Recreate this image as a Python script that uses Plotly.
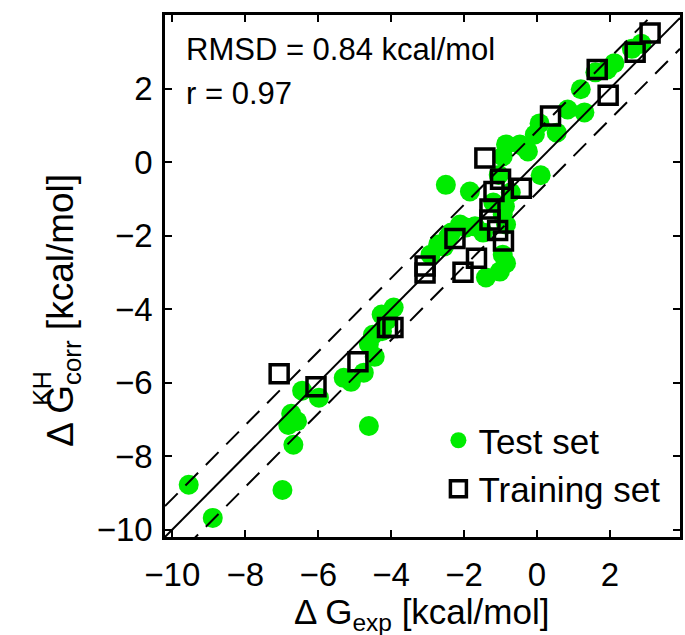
import plotly.graph_objects as go

# ---- data ----
test_x = [-9.55, -8.89, -6.98, -6.68, -6.82, -6.58, -6.74, -6.44, -5.98, -5.30,
          -5.10, -4.75, -4.61, -4.45, -4.61, -4.50, -4.26, -4.12, -3.93, -4.25,
          -2.92, -2.71, -2.55, -2.35, -2.11, -2.43, -1.94, -1.70, -1.48, -0.94,
          -0.85, -0.94, -0.85, -1.02, -1.40, -2.50, -1.84, -0.72, -1.20, -0.88,
          -0.94, -0.85, -0.47, -0.25, 0.10, -0.06, -0.34, 0.07, 0.54, 0.84,
          1.30, 1.20, 1.60, 1.93, 2.12, 2.60, 2.86, -1.05]
test_y = [-8.78, -9.68, -8.92, -7.69, -7.15, -7.05, -6.85, -6.22, -6.41, -5.87,
          -5.98, -5.73, -7.18, -5.30, -4.95, -4.70, -4.15, -4.30, -3.96, -4.60,
          -2.52, -2.24, -2.30, -1.92, -1.70, -2.03, -1.78, -1.75, -1.92, -1.43,
          -1.70, -2.52, -2.75, -2.98, -3.14, -0.62, -0.80, -0.83, -1.10, -1.21,
          0.15, 0.48, 0.48, 0.29, -0.36, 0.75, 0.40, 1.05, 0.80, 1.43,
          1.35, 1.98, 2.44, 2.52, 2.69, 3.08, 3.22, -0.35]

train_x = [-7.07, -6.06, -4.91, -4.10, -3.95, -3.07, -3.07, -2.25, -2.03, -1.66,
           -1.43, -1.00, -0.43, -1.18, -1.29, -1.29, -1.08, -0.92, 0.37, 1.65,
           1.95, 2.69, 3.10]
train_y = [-5.76, -6.11, -5.43, -4.50, -4.50, -2.83, -3.02, -2.08, -3.00, -2.62,
           0.11, -0.47, -0.71, -0.80, -1.28, -1.58, -1.86, -2.15, 1.25, 2.52,
           1.82, 2.99, 3.51]

rmsd = 0.84
r_value = 0.97
axis_range = [-10.2, 3.92]
y_range = [-10.2, 4.0]
tick_vals = [-10, -8, -6, -4, -2, 0, 2]
tick_text = ["\u221210", "\u22128", "\u22126", "\u22124", "\u22122", "0", "2"]

FONT = "Liberation Sans, Arial, Helvetica, sans-serif"

fig = go.Figure()

fig.add_trace(go.Scatter(
    x=test_x, y=test_y, mode="markers", name="Test set",
    marker=dict(symbol="circle", size=20, color="#00ec00", line=dict(width=0)),
))
fig.add_trace(go.Scatter(
    x=train_x, y=train_y, mode="markers", name="Training set",
    marker=dict(symbol="square-open", size=18, color="black", line=dict(width=3.5)),
))

# identity line and +/- RMSD lines
lx = [axis_range[0], axis_range[1]]
fig.add_trace(go.Scatter(x=lx, y=lx, mode="lines", showlegend=False,
                         line=dict(color="black", width=2)))
fig.add_trace(go.Scatter(x=lx, y=[v + rmsd for v in lx], mode="lines", showlegend=False,
                         line=dict(color="black", width=2, dash="18px,11px")))
fig.add_trace(go.Scatter(x=lx, y=[v - rmsd for v in lx], mode="lines", showlegend=False,
                         line=dict(color="black", width=2, dash="18px,11px")))

axis_common = dict(
    showgrid=False, zeroline=False, showline=True, linecolor="black", linewidth=2.5,
    mirror="allticks", ticks="inside", ticklen=7, tickwidth=2, tickcolor="black",
    tickvals=tick_vals, ticktext=tick_text,
    tickfont=dict(family=FONT, size=33, color="black"),
)
fig.update_xaxes(range=axis_range, ticklabelstandoff=7, **axis_common)
fig.update_yaxes(range=y_range, ticklabelstandoff=3, **axis_common)

L, R, T, B = 165, 2, 15, 98
W, H = 685, 635
pw, ph = W - L - R, H - T - B

def px_x(p):
    return (p - L) / pw

def px_y(p):
    return (H - B - p) / ph

annotations = [
    dict(text=f"RMSD = {rmsd:.2f} kcal/mol", x=px_x(184), y=px_y(49), xref="paper", yref="paper",
         xanchor="left", yanchor="middle", showarrow=False,
         font=dict(family=FONT, size=31, color="black")),
    dict(text=f"r = {r_value:.2f}", x=px_x(184), y=px_y(93), xref="paper", yref="paper",
         xanchor="left", yanchor="middle", showarrow=False,
         font=dict(family=FONT, size=31, color="black")),
    dict(text="\u0394 G<sub>exp</sub> [kcal/mol]", x=px_x(423), y=px_y(590), xref="paper", yref="paper",
         xanchor="center", yanchor="top", showarrow=False,
         font=dict(family=FONT, size=35, color="black")),
    dict(text="\u0394 G<sub>corr</sub> [kcal/mol]", x=px_x(37), y=px_y(310), xref="paper", yref="paper",
         xanchor="left", yanchor="middle", textangle=-90, showarrow=False,
         font=dict(family=FONT, size=37, color="black")),
    dict(text="KH", x=px_x(25), y=px_y(388), xref="paper", yref="paper",
         xanchor="left", yanchor="middle", textangle=-90, showarrow=False,
         font=dict(family=FONT, size=25, color="black")),
]

fig.update_layout(
    width=W, height=H,
    margin=dict(l=L, r=R, t=T, b=B, pad=0),
    plot_bgcolor="white", paper_bgcolor="white",
    font=dict(family=FONT, size=33, color="black"),
    showlegend=True,
    legend=dict(x=px_x(440), y=px_y(411), xanchor="left", yanchor="top",
                bgcolor="rgba(0,0,0,0)", borderwidth=0,
                font=dict(family=FONT, size=35, color="black"),
                tracegroupgap=0),
    annotations=annotations,
)

fig.write_html("out.html")
